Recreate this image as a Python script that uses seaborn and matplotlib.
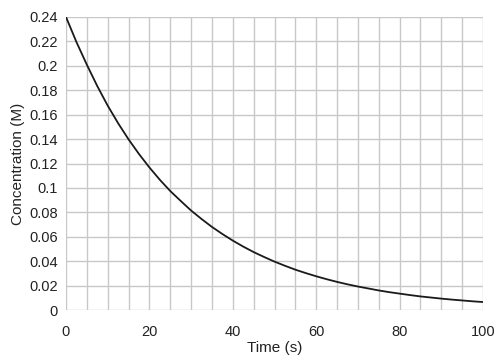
import numpy as np
import pandas as pd
import matplotlib
matplotlib.use("Agg")
import matplotlib.pyplot as plt
from matplotlib.ticker import MultipleLocator
import seaborn as sns

# values (every 2.5 s)
time_s = [0, 2.5, 5, 7.5, 10, 12.5, 15, 17.5, 20, 22.5, 25, 27.5, 30, 32.5, 35, 37.5,
          40, 42.5, 45, 47.5, 50, 52.5, 55, 57.5, 60, 62.5, 65, 67.5, 70, 72.5,
          75, 77.5, 80, 82.5, 85, 87.5, 90, 92.5, 95, 97.5, 100]
conc_M = [0.240, 0.2195, 0.2009, 0.1834, 0.1674, 0.1530, 0.1398, 0.1278, 0.1168, 0.1067,
          0.0975, 0.0894, 0.0815, 0.0746, 0.0681, 0.0623, 0.0569, 0.0520, 0.0475, 0.0435,
          0.0397, 0.0363, 0.0331, 0.0303, 0.0277, 0.0253, 0.0231, 0.0211, 0.0193,
          0.0177, 0.0161, 0.0147, 0.0135, 0.0123, 0.0112, 0.0103, 0.0094, 0.0086,
          0.0079, 0.0072, 0.0066]
x_ticks = [0, 20, 40, 60, 80, 100]
y_ticks = [0, 0.02, 0.04, 0.06, 0.08, 0.1, 0.12, 0.14, 0.16, 0.18, 0.2, 0.22, 0.24]
y_labels = ["0", "0.02", "0.04", "0.06", "0.08", "0.1", "0.12", "0.14",
            "0.16", "0.18", "0.2", "0.22", "0.24"]

df = pd.DataFrame({"Time (s)": time_s, "Concentration (M)": conc_M})

sns.set_style("white")
plt.rcParams['font.family'] = ['Liberation Sans', 'DejaVu Sans']

fig = plt.figure(figsize=(5, 3.61), dpi=100)
ax = fig.add_axes([0.132, 0.141, 0.834, 0.812])

sns.lineplot(data=df, x="Time (s)", y="Concentration (M)", color="#1a1a1a",
             linewidth=1.3, ax=ax, zorder=3)

ax.set_xlim(0, 100)
ax.set_ylim(0, 0.24)
ax.set_xticks(x_ticks)
ax.xaxis.set_minor_locator(MultipleLocator(5))
ax.set_yticks(y_ticks)
ax.set_yticklabels(y_labels)

ax.grid(which="both", color="#c8c8c8", linewidth=1.0)
ax.set_axisbelow(True)
for s in ax.spines.values():
    s.set_visible(False)
ax.tick_params(which="both", length=0, labelsize=10.5, colors="#222222")
ax.tick_params(axis="x", pad=11)
ax.tick_params(axis="y", pad=6)
ax.set_xlabel("Time (s)", fontsize=11, color="#222222", labelpad=1)
ax.set_ylabel("Concentration (M)", fontsize=11, color="#222222", labelpad=3)

fig.savefig("out.png", dpi=100)
